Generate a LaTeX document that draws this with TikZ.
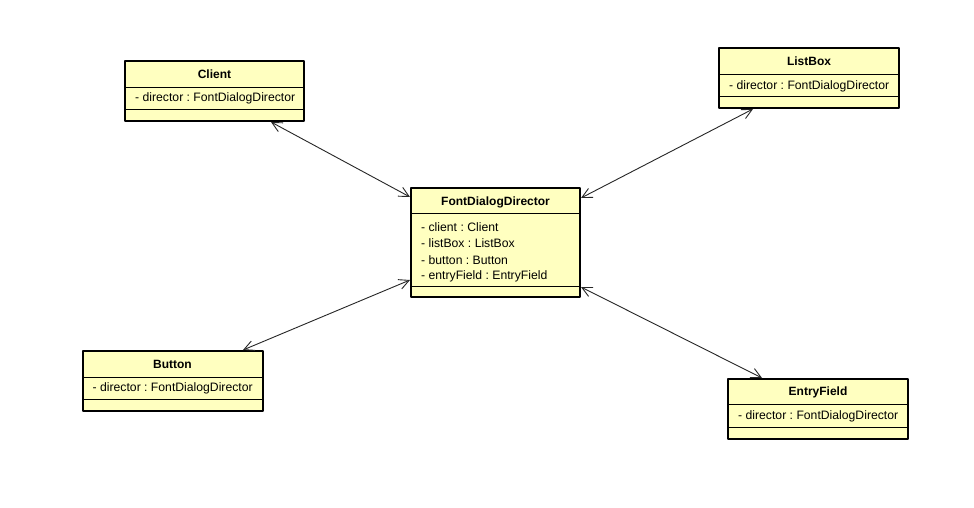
\documentclass[tikz,border=0pt]{standalone}
\usepackage{fontspec}
\setmainfont{Liberation Sans}
\usepackage{xcolor}
\usepackage{tikz}
\usetikzlibrary{arrows.meta}

\definecolor{classfill}{RGB}{255,255,192}
\frenchspacing

\tikzset{
  classbox/.style={draw=black,line width=2pt,fill=classfill,inner sep=0pt},
  classtitle/.style={font=\fontsize{12}{14}\selectfont\bfseries,inner sep=0pt},
  classattr/.style={font=\fontsize{12.2}{14}\selectfont,anchor=west,inner sep=0pt},
  sepline/.style={line width=0.9pt},
  assoc/.style={{Straight Barb[length=10pt,width=10pt]}-{Straight Barb[length=10pt,width=10pt]},line width=0.9pt,black!85}
}

\begin{document}
\begin{tikzpicture}[x=1pt,y=-1pt,line join=round]
  \useasboundingbox[fill=white] (0,0) rectangle (974,508);
  % class boxes
  \node[classbox,minimum width=179pt,minimum height=60pt] (client) at (214.5,91) {};
  \node[classbox,minimum width=180pt,minimum height=60pt] (listbox) at (809,78) {};
  \node[classbox,minimum width=169pt,minimum height=109pt] (director) at (495.5,242.5) {};
  \node[classbox,minimum width=180pt,minimum height=60pt] (button) at (172.5,381) {};
  \node[classbox,minimum width=180pt,minimum height=60pt] (entry) at (818,409) {};
  % compartments
  \draw[sepline] (125,87) -- (304,87);
  \draw[sepline] (125,109) -- (304,109);
  \draw[sepline] (719,74) -- (899,74);
  \draw[sepline] (719,96) -- (899,96);
  \draw[sepline] (411,213) -- (580,213);
  \draw[sepline] (411,286) -- (580,286);
  \draw[sepline] (82.5,377) -- (262.5,377);
  \draw[sepline] (82.5,399) -- (262.5,399);
  \draw[sepline] (728,404) -- (908,404);
  \draw[sepline] (728,427) -- (908,427);
  % names
  \node[classtitle] (clientT) at (214.5,74.5) {Client};
  \node[classtitle] (listboxT) at (809,61.5) {ListBox};
  \node[classtitle] (directorT) at (495.5,202) {FontDialogDirector};
  \node[classtitle] (buttonT) at (172.5,364.5) {Button};
  \node[classtitle] (entryT) at (818,392) {EntryField};
  % attributes
  \node[classattr] (clientA) at (135,98.5) {- director : FontDialogDirector};
  \node[classattr] (listboxA) at (729,86) {- director : FontDialogDirector};
  \node[classattr] (directorA1) at (421,227) {- client : Client};
  \node[classattr] (directorA2) at (421,243.5) {- listBox : ListBox};
  \node[classattr] (directorA3) at (421,260) {- button : Button};
  \node[classattr] (directorA4) at (421,276.5) {- entryField : EntryField};
  \node[classattr] (buttonA) at (92.5,388.5) {- director : FontDialogDirector};
  \node[classattr] (entryA) at (738,416) {- director : FontDialogDirector};
  % associations
  \draw[assoc] ([xshift=56.5pt]client.south) -- ([yshift=45.5pt]director.west);
  \draw[assoc] ([xshift=-56pt]listbox.south) -- ([yshift=44.5pt]director.east);
  \draw[assoc] ([xshift=70.5pt]button.north) -- ([yshift=-37.5pt]director.west);
  \draw[assoc] ([xshift=-56pt]entry.north) -- ([yshift=-44.5pt]director.east);
\end{tikzpicture}
\end{document}
